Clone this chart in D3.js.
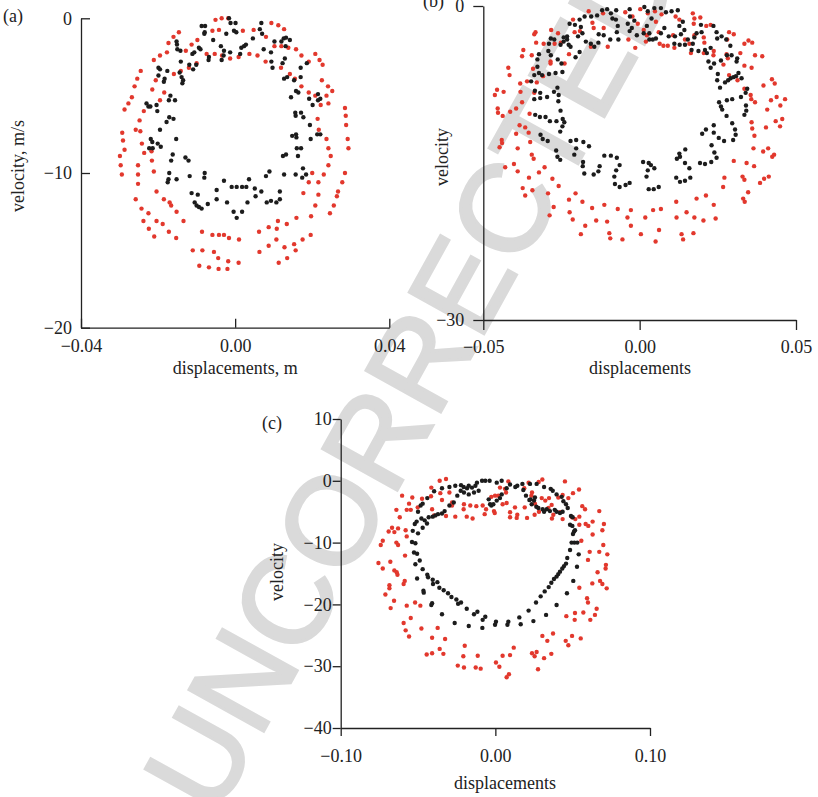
<!DOCTYPE html>
<html><head><meta charset="utf-8">
<script src="https://cdn.jsdelivr.net/npm/d3@7/dist/d3.min.js"></script>
<style>
body{margin:0;background:#fff}
svg text{font-family:"Liberation Serif","Times New Roman",serif}
</style>
</head><body>
<svg id="chart" width="818" height="797"></svg>
<script>
// ---------- DATA ----------
const panelLabels = ["(a)", "(b)", "(c)"];
const xTitles = ["displacements, m", "displacements", "displacements"];
const yTitles = ["velocity, m/s", "velocity", "velocity"];
const aTicksX = [-0.04, 0.00, 0.04];
const aTicksY = [0, -10, -20];
const bTicksX = [-0.05, 0.00, 0.05];
const bTicksY = [0, -30];
const cTicksX = [-0.10, 0.00, 0.10];
const cTicksY = [10, 0, -10, -20, -30, -40];
const watermarkText = "UNCORRECTED";

// panel (a): [displacement (m), velocity (m/s)]
const aRed = [[-0.0051,-0.1],[-0.0035,0],[-0.0018,0],[-0.0059,-0.8],[-0.0042,-0.75],[0.0020,-0.8],[0.0048,-0.75],[0.0080,-1.2],[0.0094,-0.3],[0.0112,-0.45],[0.0127,-0.7],[-0.0146,-0.9],[-0.0160,-1.2],[-0.0173,-1.6],[-0.0113,-1.7],[-0.0098,-1.4],[-0.0128,-2.1],[-0.0074,-2.3],[-0.0053,-2.3],[-0.0034,-2.4],[-0.0013,-2.6],[0.0009,-2.5],[0.0037,-2.3],[0.0058,-2.4],[0.0079,-2.8],[0.0102,-1.8],[0.0120,-1.8],[0.0138,-1.9],[0.0158,-2.0],[-0.0211,-2.7],[-0.0195,-2.4],[-0.0177,-2.2],[0.0172,-2.4],[0.0191,-2.8],[0.0208,-2.3],[0.0219,-2.7],[0.0227,-3.0],[-0.0245,-3.4],[-0.0254,-3.9],[-0.0261,-4.4],[-0.0268,-5.1],[-0.0277,-5.5],[-0.0287,-5.9],[-0.0206,-4.0],[-0.0215,-4.6],[-0.0195,-5.3],[-0.0184,-4.8],[-0.0159,-3.6],[-0.0141,-3.4],[-0.0120,-3.2],[-0.0100,-2.9],[0.0119,-3.2],[0.0142,-3.6],[0.0155,-3.9],[0.0225,-4.0],[0.0241,-4.4],[0.0252,-4.7],[0.0237,-5.0],[0.0242,-5.5],[0.0285,-5.8],[0.0287,-6.3],[0.0288,-6.9],[0.0292,-7.8],[0.0294,-8.4],[0.0285,-10.0],[0.0278,-10.6],[0.0267,-11.2],[0.0264,-11.5],[0.0256,-12.1],[0.0246,-12.6],[0.0172,-4.4],[0.0191,-4.8],[0.0208,-5.0],[0.0222,-5.6],[0.0214,-6.5],[0.0217,-7.2],[0.0237,-7.8],[0.0242,-8.4],[0.0248,-8.9],[0.0242,-9.5],[0.0230,-10.1],[0.0216,-10.6],[0.0216,-11.4],[0.0208,-12.1],[0.0197,-12.8],[0.0200,-10.0],[0.0191,-10.6],[0.0177,-11.3],[-0.0293,-7.4],[-0.0291,-7.9],[-0.0287,-8.5],[-0.0299,-8.9],[-0.0297,-9.5],[-0.0294,-10.1],[-0.0258,-11.7],[-0.0243,-12.3],[-0.0238,-13.1],[-0.0224,-13.6],[-0.0210,-14.1],[-0.0237,-6.0],[-0.0248,-6.6],[-0.0246,-7.3],[-0.0258,-7.2],[-0.0242,-8.1],[-0.0236,-8.7],[-0.0216,-9.2],[-0.0211,-9.9],[-0.0252,-9.5],[-0.0252,-10.1],[-0.0252,-10.7],[-0.0217,-8.6],[-0.0204,-11.2],[-0.0185,-11.7],[-0.0170,-11.9],[-0.0166,-12.1],[-0.0152,-12.5],[-0.0134,-13.1],[-0.0204,-13.1],[-0.0188,-13.3],[-0.0172,-13.8],[-0.0153,-14.2],[-0.0225,-12.6],[-0.0086,-13.8],[-0.0059,-14.0],[-0.0042,-14.0],[-0.0029,-14.0],[-0.0016,-14.2],[0.0010,-14.3],[-0.0110,-15.0],[-0.0085,-15.0],[-0.0055,-15.1],[-0.0044,-15.5],[-0.0018,-15.7],[0.0009,-15.8],[-0.0093,-16.0],[-0.0068,-16.1],[-0.0043,-16.2],[-0.0020,-16.2],[0.0062,-13.8],[0.0087,-13.5],[0.0108,-13.6],[0.0111,-13.1],[0.0134,-13.3],[0.0159,-12.9],[0.0107,-14.3],[0.0087,-14.7],[0.0063,-15.1],[0.0128,-14.8],[0.0153,-14.6],[0.0157,-15.0],[0.0135,-15.5],[0.0113,-15.8],[0.0175,-14.3],[0.0196,-14.0]];
const aBlack = [[-0.0087,-0.5],[-0.0078,-0.5],[-0.0016,0],[-0.0012,-0.3],[0.0001,-0.3],[0.0068,-0.3],[0.0064,-0.7],[0.0070,-1.0],[-0.0023,-1.0],[-0.0003,-0.8],[0.0003,-0.9],[-0.0057,-1.4],[-0.0037,-1.8],[-0.0029,-2.1],[-0.0013,-2.2],[0.0013,-2.3],[0.0016,-1.9],[0.0023,-1.8],[0.0028,-1.7],[0.0046,-1.3],[0.0074,-2.0],[0.0093,-2.2],[0.0102,-1.5],[0.0120,-1.5],[0.0126,-1.3],[0.0132,-1.25],[0.0142,-1.4],[0.0131,-1.8],[0.0129,-2.6],[0.0094,-2.8],[0.0097,-3.2],[0.0123,-2.9],[0.0127,-3.9],[0.0135,-3.8],[0.0153,-4.0],[0.0170,-3.8],[0.0170,-3.2],[0.0186,-2.9],[-0.0152,-1.5],[-0.0151,-1.7],[-0.0150,-2.0],[-0.0142,-2.1],[-0.0141,-2.8],[-0.0111,-2.3],[-0.0106,-2.2],[-0.0094,-1.9],[-0.0090,-2.0],[-0.0079,-0.9],[-0.0080,-1.0],[-0.0068,-2.5],[-0.0069,-2.7],[-0.0035,-2.7],[-0.0030,-2.4],[-0.0199,-3.2],[-0.0195,-3.3],[-0.0199,-3.7],[-0.0185,-4.1],[-0.0183,-3.9],[-0.0176,-3.4],[-0.0144,-3.5],[-0.0139,-3.8],[-0.0135,-4.0],[-0.0137,-4.2],[-0.0119,-3.0],[-0.0109,-3.3],[-0.0101,-3.0],[-0.0168,-5.0],[-0.0172,-5.3],[-0.0156,-5.3],[-0.0230,-5.5],[-0.0225,-5.7],[-0.0220,-5.7],[-0.0204,-5.6],[-0.0202,-6.0],[-0.0171,-6.4],[-0.0160,-6.5],[-0.0178,-6.7],[-0.0195,-7.2],[-0.0153,-7.8],[-0.0219,-7.8],[-0.0215,-8.0],[-0.0223,-8.4],[-0.0214,-8.4],[-0.0201,-8.1],[-0.0193,-8.3],[-0.0162,-8.8],[-0.0166,-9.2],[-0.0129,-9.0],[-0.0121,-9.2],[-0.0171,-10.0],[-0.0173,-10.4],[-0.0175,-10.6],[-0.0152,-10.4],[-0.0118,-10.2],[-0.0079,-10.0],[-0.0080,-10.3],[-0.0029,-10.5],[0.0145,-5.1],[0.0158,-4.7],[0.0164,-4.8],[0.0192,-5.2],[0.0201,-5.6],[0.0215,-4.9],[0.0215,-5.3],[0.0221,-5.2],[0.0156,-6.1],[0.0157,-6.3],[0.0171,-6.1],[0.0177,-6.4],[0.0194,-6.9],[0.0148,-7.6],[0.0158,-7.5],[0.0159,-7.7],[0.0196,-7.8],[0.0213,-7.5],[0.0221,-7.5],[0.0160,-8.4],[0.0171,-8.4],[0.0163,-8.9],[0.0124,-8.9],[0.0132,-8.8],[0.0127,-10.1],[0.0157,-10.1],[0.0176,-9.7],[0.0174,-10.3],[0.0184,-10.1],[0.0080,-10.2],[0.0089,-9.9],[-0.0113,-11.3],[-0.0097,-11.4],[-0.0105,-11.9],[-0.0100,-12.1],[-0.0094,-12.2],[-0.0087,-12.3],[-0.0071,-12.0],[-0.0048,-11.1],[-0.0048,-11.7],[-0.0021,-11.9],[-0.0009,-10.9],[0.0004,-10.9],[0.0018,-10.9],[0.0029,-10.9],[0.0032,-11.9],[0.0051,-11.0],[0.0053,-11.5],[0.0068,-11.2],[0.0082,-11.9],[0.0093,-11.8],[0.0116,-11.2],[0.0116,-11.7],[0.0107,-11.9],[-0.0004,-12.5],[0.0004,-12.9],[0.0018,-12.5],[0.0036,-10.4]];

// panel (b)
const bRed = [[-0.0163,-0.5],[-0.0213,-1.3],[-0.0151,-1.6],[-0.0147,-2.1],[-0.0208,-2.5],[-0.0191,-2.4],[-0.0333,-2.5],[-0.0337,-2.7],[-0.0283,-2.3],[-0.0261,-2.6],[-0.0331,-3.5],[-0.0307,-3.6],[-0.0272,-3.6],[-0.0252,-3.5],[-0.0372,-4.2],[-0.0376,-4.8],[-0.0345,-4.7],[-0.0285,-5.3],[-0.0285,-5.5],[-0.0240,-5.5],[-0.0226,-4.6],[-0.0156,-3.9],[-0.0420,-5.9],[-0.0416,-6.6],[-0.0341,-6.0],[-0.0309,-6.7],[-0.0329,-7.3],[-0.0360,-7.2],[-0.0382,-7.4],[-0.0456,-8.0],[-0.0435,-8.2],[-0.0463,-8.5],[-0.0381,-8.2],[-0.0337,-8.3],[-0.0376,-9.2],[-0.0395,-9.8],[-0.0414,-10.1],[-0.0454,-9.8],[-0.0453,-10.2],[-0.0438,-10.5],[-0.0352,-10.3],[-0.0384,-11.4],[-0.0366,-11.6],[-0.0395,-12.2],[-0.0355,-12.1],[-0.0350,-13.0],[-0.0441,-12.8],[-0.0440,-13.1],[-0.0448,-13.5],[-0.0390,-13.6],[-0.0345,-14.2],[-0.0339,-14.6],[-0.0402,-15.1],[-0.0430,-15.4],[-0.0390,-15.8],[-0.0354,-16.4],[-0.0322,-15.9],[-0.0304,-15.4],[-0.0279,-16.5],[-0.0259,-17.2],[-0.0374,-17.4],[-0.0366,-18.1],[-0.0343,-17.6],[-0.0293,-17.9],[-0.0205,-17.9],[-0.0226,-18.5],[-0.0183,-18.7],[-0.0152,-19.3],[-0.0275,-19.2],[-0.0288,-20.0],[-0.0224,-19.7],[-0.0214,-20.4],[-0.0139,-20.5],[-0.0174,-21.0],[-0.0188,-21.8],
[-0.0117,-0.7],[-0.0115,-2.1],[-0.0102,-3.9],[-0.0046,-0.6],[-0.0023,-1.0],[-0.0006,-1.7],[0.0002,-0.3],[0.0026,-0.7],[0.0049,-0.5],[0.0052,-1.5],[0.0070,-0.8],[0.0115,-1.0],[0.0127,-1.3],[0.0170,-0.7],[0.0175,-1.2],[0.0173,-1.7],[0.0194,-1.1],[0.0213,-1.9],[-0.0036,-3.2],[-0.0014,-4.0],[0.0013,-2.3],[0.0023,-2.8],[0.0020,-3.4],[0.0061,-2.5],[0.0064,-3.6],[0.0076,-3.8],[0.0090,-3.8],[0.0107,-2.8],[0.0111,-4.0],[0.0145,-3.2],[0.0159,-3.6],[0.0164,-4.5],[0.0175,-2.8],[0.0205,-3.0],[0.0207,-3.5],[0.0205,-4.5],[-0.0113,-19.0],[-0.0070,-19.4],[-0.0028,-19.5],[-0.0104,-20.6],[-0.0039,-20.2],[-0.0028,-21.0],[-0.0097,-21.7],[-0.0094,-22.2],[-0.0055,-22.3],[0.0004,-21.8],[0.0018,-20.2],[0.0043,-19.5],[0.0068,-19.4],[0.0062,-21.4],[0.0051,-22.5],[0.0117,-18.7],[0.0118,-20.2],[0.0150,-19.7],[0.0182,-18.4],[0.0175,-20.2],[0.0204,-20.5],[0.0134,-21.8],[0.0139,-22.3],[0.0172,-21.7],[0.0212,-18.1],
[0.0227,-1.8],[0.0286,-2.5],[0.0301,-2.7],[0.0280,-3.2],[0.0237,-4.3],[0.0236,-4.7],[0.0278,-4.6],[0.0282,-5.0],[0.0322,-4.5],[0.0335,-3.6],[0.0348,-3.3],[0.0360,-3.5],[0.0369,-4.7],[0.0392,-4.8],[0.0268,-5.6],[0.0335,-5.7],[0.0358,-5.9],[0.0286,-6.6],[0.0313,-7.1],[0.0335,-7.9],[0.0355,-8.5],[0.0357,-8.9],[0.0369,-9.2],[0.0396,-7.6],[0.0423,-7.0],[0.0432,-7.4],[0.0420,-9.0],[0.0438,-8.7],[0.0465,-8.9],[0.0450,-9.5],[0.0408,-9.9],[0.0358,-11.1],[0.0360,-11.7],[0.0367,-12.4],[0.0435,-11.0],[0.0456,-10.8],[0.0449,-11.5],[0.0404,-11.6],[0.0364,-13.6],[0.0395,-13.9],[0.0411,-13.6],[0.0430,-14.2],[0.0424,-14.4],[0.0301,-14.8],[0.0342,-15.0],[0.0366,-15.3],[0.0271,-16.4],[0.0267,-17.3],[0.0329,-16.3],[0.0335,-16.6],[0.0385,-16.9],[0.0398,-16.5],[0.0413,-16.3],[0.0347,-17.8],[0.0331,-18.4],[0.0336,-18.7],[0.0237,-19.0],[0.0243,-20.3]];
const bBlack = [[-0.0136,-0.9],[-0.0155,-1.0],[-0.0176,-1.0],[-0.0192,-1.3],[-0.0224,-1.7],[-0.0207,-1.8],[-0.0188,-2.0],[-0.0183,-2.6],[-0.0197,-2.9],[-0.0172,-3.4],[-0.0156,-3.6],[-0.0145,-3.9],[-0.0132,-3.5],[-0.0232,-2.9],[-0.0243,-3.0],[-0.0232,-3.2],[-0.0243,-3.4],[-0.0227,-3.7],[-0.0221,-3.9],[-0.0253,-3.7],[-0.0273,-3.2],[-0.0284,-3.1],[-0.0290,-3.6],[-0.0292,-4.3],[-0.0284,-4.7],[-0.0262,-5.1],[-0.0250,-5.5],[-0.0322,-4.6],[-0.0327,-5.1],[-0.0192,-4.4],[-0.0205,-4.9],[-0.0327,-5.8],[-0.0322,-6.4],[-0.0337,-6.6],[-0.0347,-7.2],[-0.0312,-6.6],[-0.0290,-6.5],[-0.0269,-6.4],[-0.0247,-6.3],[-0.0263,-7.8],[-0.0274,-8.2],[-0.0259,-8.5],[-0.0296,-8.7],[-0.0318,-8.3],[-0.0335,-8.1],[-0.0337,-8.9],[-0.0318,-8.8],[-0.0260,-9.1],[-0.0253,-10.0],[-0.0246,-10.8],[-0.0241,-11.1],[-0.0247,-11.5],[-0.0254,-12.0],[-0.0334,-10.4],[-0.0319,-10.6],[-0.0301,-10.6],[-0.0287,-11.0],[-0.0266,-11.0],[-0.0317,-12.3],[-0.0310,-12.7],[-0.0294,-12.9],[-0.0221,-12.9],[-0.0203,-12.8],[-0.0180,-13.0],[-0.0162,-13.4],[-0.0203,-13.6],[-0.0209,-14.2],[-0.0267,-13.8],[-0.0263,-14.4],[-0.0254,-14.7],[-0.0181,-14.9],[-0.0182,-15.3],[-0.0177,-16.0],[-0.0147,-16.1],[-0.0132,-15.8],[-0.0128,-15.3],
[-0.0120,-0.4],[-0.0104,-0.3],[-0.0092,-0.7],[-0.0087,-1.2],[-0.0075,-0.4],[-0.0076,-1.3],[-0.0070,-1.9],[-0.0073,-2.5],[-0.0068,-3.2],[-0.0094,-3.2],[-0.0115,-2.8],[-0.0131,-2.7],[-0.0032,-0.3],[-0.0031,-1.0],[-0.0017,-1.4],[-0.0025,-2.1],[-0.0032,-2.4],[-0.0038,-1.7],[-0.0009,-2.8],[0.0015,-0.1],[0.0026,-0.5],[0.0038,-1.2],[0.0047,-0.2],[0.0068,-0.2],[0.0084,-0.6],[0.0102,-0.5],[0.0122,-0.4],[0.0138,-1.5],[0.0127,-1.9],[0.0143,-2.3],[0.0132,-2.7],[0.0113,-2.9],[0.0111,-3.6],[0.0128,-3.7],[0.0145,-3.7],[0.0154,-3.2],[0.0170,-3.6],[0.0166,-4.2],[0.0188,-4.3],[0.0175,-3.0],[0.0182,-2.6],[0.0198,-2.5],[0.0196,-1.8],[0.0209,-4.2],[0.0215,-4.5],[0.0023,-1.9],[0.0013,-2.6],[0.0031,-2.6],[0.0031,-3.2],[0.0042,-3.2],[0.0052,-3.1],[0.0068,-2.6],[0.0079,-2.1],[0.0093,-2.9],[-0.0113,-14.3],[-0.0092,-14.3],[-0.0073,-14.5],[-0.0064,-15.2],[-0.0075,-15.7],[-0.0081,-16.3],[-0.0079,-17.0],[-0.0064,-17.3],[-0.0045,-17.1],[-0.0032,-16.9],[0.0011,-14.9],[0.0029,-15.0],[0.0036,-15.2],[0.0047,-15.5],[0.0026,-15.7],[0.0022,-16.3],[0.0029,-17.5],[0.0045,-17.5],[0.0061,-17.3],[0.0127,-14.1],[0.0129,-14.4],[0.0119,-14.6],[0.0146,-13.7],[0.0145,-15.0],[0.0159,-15.5],[0.0117,-16.4],[0.0129,-16.8],[0.0145,-16.7],[0.0162,-16.4],[0.0193,-15.0],[0.0209,-15.1],[0.0200,-12.2],[0.0212,-11.8],
[0.0236,-1.9],[0.0246,-2.5],[0.0262,-2.9],[0.0248,-3.1],[0.0277,-3.2],[0.0290,-3.8],[0.0279,-4.7],[0.0294,-4.7],[0.0312,-5.0],[0.0310,-5.3],[0.0260,-5.2],[0.0227,-4.0],[0.0238,-5.5],[0.0227,-5.9],[0.0220,-5.3],[0.0250,-6.5],[0.0248,-7.1],[0.0257,-7.8],[0.0273,-7.3],[0.0283,-7.1],[0.0291,-6.9],[0.0300,-6.8],[0.0308,-6.7],[0.0316,-6.4],[0.0326,-6.9],[0.0344,-7.9],[0.0339,-8.3],[0.0324,-8.7],[0.0254,-9.2],[0.0260,-9.6],[0.0264,-9.9],[0.0279,-9.0],[0.0296,-8.9],[0.0340,-9.5],[0.0341,-10.0],[0.0335,-10.4],[0.0278,-10.5],[0.0237,-11.4],[0.0296,-11.2],[0.0305,-11.8],[0.0307,-12.3],[0.0299,-12.8],[0.0270,-12.9],[0.0253,-12.6],[0.0237,-12.1],[0.0230,-13.3],[0.0239,-14.0],[0.0246,-14.5],[0.0229,-14.9]];

// panel (c)
const cRed = [[-0.0360,0],[-0.0319,0.3],[-0.0414,-1.1],[-0.0297,-1.9],[-0.0603,-2.4],[-0.0537,-2.7],[-0.0558,-3.7],[-0.0474,-2.9],[-0.0416,-2.5],[-0.0356,-2.0],[-0.0640,-4.7],[-0.0618,-5.9],[-0.0573,-4.7],[-0.0547,-4.7],[-0.0502,-4.3],[-0.0409,-4.6],[-0.0345,-3.1],[-0.0280,-3.5],[-0.0280,-4.0],[-0.0203,-3.8],[-0.0205,-4.6],[-0.0162,-4.0],[-0.0123,-4.1],[-0.0082,-4.0],[-0.0060,-4.6],[-0.0069,-5.4],[-0.0026,-2.6],[-0.0396,-5.6],[-0.0319,-5.7],[-0.0259,-5.8],[-0.0185,-5.8],[-0.0147,-6.1],[-0.0668,-7.6],[-0.0690,-8.2],[-0.0653,-8.3],[-0.0629,-7.7],[-0.0580,-8.0],[-0.0573,-9.0],[-0.0728,-9.7],[-0.0741,-10.4],[-0.0640,-10.0],[-0.0629,-10.4],[-0.0584,-12.1],[-0.0679,-13.1],[-0.0756,-13.3],[-0.0728,-14.2],[-0.0653,-14.5],[-0.0638,-14.8],[-0.0633,-15.2],[-0.0586,-16.2],[-0.0593,-16.7],[-0.0685,-16.9],[-0.0685,-17.4],[-0.0711,-18.4],[-0.0655,-19.4],[-0.0677,-20.6],[-0.0573,-20.2],[-0.0519,-19.7],[-0.0485,-20.2],[-0.0547,-22.2],[-0.0593,-23.0],[-0.0580,-24.2],[-0.0478,-23.9],[-0.0558,-25.2],[-0.0409,-25.4],[-0.0373,-23.8],[-0.0325,-25.6],[-0.0360,-27.2],[-0.0336,-28.0],[-0.0444,-28.1],[-0.0409,-27.9],[-0.0198,-26.7],[-0.0207,-28.4],[-0.0114,-28.3],[-0.0243,-29.9],[-0.0203,-30.2],[-0.0127,-30.2],[-0.0095,-30.4],
[-0.0002,-2.4],[0.0019,-2.4],[0.0030,-1.1],[0.0062,-1.3],[0.0069,-1.9],[0.0084,-0.1],[0.0187,-1.2],[0.0215,-0.3],[0.0280,-0.2],[0.0304,0.2],[0.0450,-0.1],[0.0541,-1.4],[0.0502,-2.0],[0.0472,-2.8],[0.0435,-2.3],[0.0407,-2.7],[0.0237,-1.9],[0.0233,-2.4],[0.0300,-2.8],[0.0347,-2.8],[0.0323,-3.2],[0.0256,-3.7],[0.0047,-3.8],[0.0073,-3.6],[-0.0009,-4.9],[-0.0004,-5.2],[0.0095,-5.9],[0.0095,-5.1],[0.0142,-5.5],[0.0138,-6.0],[0.0127,-4.3],[0.0190,-4.3],[0.0205,-6.0],[0.0254,-5.5],[0.0282,-5.0],[0.0343,-4.4],[0.0364,-3.9],[0.0375,-5.5],[0.0366,-6.1],[0.0418,-5.1],[0.0435,-6.2],[0.0496,-5.9],[0.0543,-5.8],[0.0517,-6.2],[0.0562,-4.1],[0.0580,-4.6],[0.0672,-4.9],[0.0584,-7.0],[0.0601,-7.3],[0.0543,-7.1],[0.0629,-6.6],[0.0702,-7.0],[0.0629,-8.7],[0.0692,-8.0],[0.0556,-9.7],[0.0610,-11.5],[0.0672,-11.5],[0.0698,-10.4],[0.0724,-11.9],[0.0599,-12.8],[0.0715,-13.6],[0.0713,-14.2],[0.0661,-14.8],[0.0677,-16.2],[0.0692,-16.7],[0.0720,-17.4],[0.0627,-16.6],[0.0543,-17.3],[0.0593,-19.0],[0.0599,-19.7],[0.0655,-20.7],[0.0644,-21.7],[0.0614,-22.5],[0.0569,-21.3],[0.0515,-21.4],[0.0513,-22.5],[0.0459,-21.9],[0.0373,-24.7],[0.0304,-25.1],[0.0336,-25.9],[0.0455,-25.9],[0.0472,-26.6],[0.0496,-25.1],[0.0552,-25.5],[0.0119,-27.0],[0.0047,-28.3],[0.0095,-28.2],[0.0004,-29.4],[0.0026,-30.1],[0.0237,-27.9],[0.0267,-27.7],[0.0254,-28.4],[0.0315,-28.7],[0.0362,-28.0],[0.0276,-30.5],[0.0088,-31.3],[0.0073,-31.8]];
const cBlack = [[-0.0345,-1.2],[-0.0297,-1.0],[-0.0259,-0.8],[-0.0222,-0.7],[-0.0205,-1.0],[-0.0183,-1.2],[-0.0172,-0.8],[-0.0151,-1.1],[-0.0129,-0.8],[-0.0119,-0.3],[-0.0086,0],[-0.0065,0],[-0.0037,0],[-0.0108,-1.6],[-0.0138,-1.9],[-0.0172,-2.2],[-0.0203,-1.9],[-0.0224,-1.6],[-0.0246,-2.4],[-0.0269,-3.5],[-0.0297,-4.0],[-0.0328,-4.9],[-0.0345,-5.3],[-0.0371,-5.4],[-0.0388,-5.6],[-0.0405,-5.8],[-0.0431,-5.9],[-0.0457,-6.4],[-0.0478,-6.1],[-0.0500,-5.0],[-0.0483,-4.0],[-0.0470,-3.7],[-0.0440,-2.8],[-0.0396,-1.7],[-0.0509,-6.6],[-0.0521,-7.0],[-0.0442,-6.9],[-0.0470,-7.6],[-0.0500,-8.5],[-0.0534,-8.1],[-0.0539,-9.9],[-0.0517,-10.1],[-0.0526,-11.6],[-0.0506,-11.8],[-0.0489,-12.9],[-0.0517,-13.5],[-0.0470,-14.3],[-0.0506,-15.8],[-0.0440,-15.2],[-0.0435,-15.6],[-0.0405,-16.0],[-0.0403,-16.7],[-0.0375,-16.4],[-0.0362,-17.3],[-0.0334,-17.7],[-0.0465,-17.8],[-0.0463,-18.1],[-0.0409,-19.8],[-0.0414,-20.1],[-0.0306,-18.2],[-0.0284,-18.8],[-0.0252,-19.2],[-0.0241,-19.9],[-0.0222,-19.7],[-0.0185,-20.7],[-0.0138,-21.6],[-0.0116,-21.2],[-0.0345,-21.6],[-0.0263,-23.0],[-0.0172,-23.5],[-0.0082,-22.5],[-0.0065,-22.0],[-0.0084,-23.8],[-0.0034,-3.8],[-0.0043,-3.0],[-0.0026,-4.0],
[0.0009,-0.3],[0.0041,0],[0.0095,-0.6],[0.0129,-1.0],[0.0142,-0.8],[0.0175,-0.5],[0.0181,-1.5],[0.0224,-0.5],[0.0267,-0.5],[0.0315,-1.0],[0.0358,-1.3],[0.0371,-1.6],[0.0396,-2.2],[0.0429,-2.6],[0.0440,-3.3],[0.0457,-3.8],[0.0468,-4.4],[0.0073,-1.2],[0.0041,-2.2],[0.0030,-2.8],[0.0009,-3.2],[-0.0013,-3.8],[0.0198,-2.4],[0.0228,-3.0],[0.0250,-3.2],[0.0265,-4.2],[0.0278,-4.4],[0.0306,-4.6],[0.0315,-5.0],[0.0332,-4.6],[0.0353,-4.9],[0.0384,-4.7],[0.0396,-5.0],[0.0418,-5.2],[0.0435,-5.0],[0.0235,-3.8],[0.0220,-3.1],[0.0256,-2.7],[0.0489,-5.7],[0.0500,-5.9],[0.0483,-7.1],[0.0498,-7.3],[0.0515,-8.0],[0.0509,-8.2],[0.0502,-8.6],[0.0493,-10.0],[0.0511,-10.0],[0.0530,-10.0],[0.0483,-11.2],[0.0539,-11.9],[0.0465,-12.5],[0.0457,-13.4],[0.0444,-13.8],[0.0433,-14.2],[0.0418,-14.7],[0.0407,-15.1],[0.0396,-15.5],[0.0379,-15.9],[0.0362,-16.5],[0.0345,-17.2],[0.0319,-17.9],[0.0293,-18.7],[0.0263,-19.7],[0.0528,-13.9],[0.0504,-16.2],[0.0463,-18.2],[0.0396,-20.1],[0.0328,-21.7],[0.0246,-22.7],[0.0215,-21.0],[0.0155,-22.1],[0.0164,-23.2],[0.0084,-22.8],[0.0078,-23.3],[0.0004,-22.8],[-0.0002,-23.3]];

// ---------- LAYOUT ----------
const RED = "#e2382d", BLACK = "#1c1c1c";
const svg = d3.select("#chart");

// watermark (behind everything)
svg.append("text")
  .attr("transform", "translate(410,375) rotate(-61)")
  .attr("text-anchor", "middle").attr("dy", "0.36em")
  .style("font-family", "'Liberation Sans', Arial, sans-serif")
  .style("font-weight", "normal").style("font-size", "124px")
  .attr("fill", "#dadada").attr("stroke", "#dadada").attr("stroke-width", 3)
  .text(watermarkText);

const panels = [
  {label: panelLabels[0], red: aRed, black: aBlack, xd: [-0.04, 0.04], yd: [-20, 0],
   xr: [81, 389.3], yr: [327.7, 18.3], xt: aTicksX, yt: aTicksY, fmtX: d3.format(".2f"),
   tick: -9, padY: 9, padX: 12, lab: [3, 21.5], xTitle: [235.3, 374], yTitle: [24, 166]},
  {label: panelLabels[1], red: bRed, black: bBlack, xd: [-0.05, 0.05], yd: [-30, 0],
   xr: [483.3, 796], yr: [320, 6], xt: bTicksX, yt: bTicksY, fmtX: d3.format(".2f"),
   tick: 10, padY: 9, padX: 10, lab: [423, 7], xTitle: [640, 374], yTitle: [448, 157]},
  {label: panelLabels[2], red: cRed, black: cBlack, xd: [-0.1, 0.1], yd: [-40, 10],
   xr: [340.7, 650], yr: [728, 419], xt: cTicksX, yt: cTicksY, fmtX: d3.format(".2f"),
   tick: 8, padY: 1, padX: 13, lab: [262, 429], xTitle: [505, 789], yTitle: [283, 572]}
];

panels.forEach((p, i) => {
  const x = d3.scaleLinear().domain(p.xd).range(p.xr);
  const y = d3.scaleLinear().domain(p.yd).range(p.yr);
  const g = svg.append("g");

  const xAxis = d3.axisBottom(x).tickValues(p.xt).tickFormat(p.fmtX)
    .tickSizeInner(p.tick).tickSizeOuter(0).tickPadding(p.padX);
  const yAxis = d3.axisLeft(y).tickValues(p.yt).tickFormat(d3.format("d"))
    .tickSizeInner(p.tick).tickSizeOuter(0).tickPadding(p.padY);

  const gx = g.append("g").attr("transform", `translate(0,${p.yr[0]})`).call(xAxis);
  const gy = g.append("g").attr("transform", `translate(${p.xr[0]},0)`).call(yAxis);
  [gx, gy].forEach(a => {
    a.attr("font-family", null).attr("font-size", null);
    a.selectAll("path.domain").attr("stroke", "#222").attr("stroke-width", 1.3);
    a.selectAll(".tick line").attr("stroke", "#222").attr("stroke-width", 1.3);
    a.selectAll(".tick text").attr("fill", "#222")
      .style("font-family", "'Liberation Serif','Times New Roman',serif").style("font-size", "18px");
  });

  // points
  const dots = g.append("g");
  dots.selectAll("circle.r").data(p.red).join("circle").attr("class", "r")
    .attr("cx", d => x(d[0])).attr("cy", d => y(d[1])).attr("r", 2.2).attr("fill", RED);
  dots.selectAll("circle.k").data(p.black).join("circle").attr("class", "k")
    .attr("cx", d => x(d[0])).attr("cy", d => y(d[1])).attr("r", 2.2).attr("fill", BLACK);

  // titles
  g.append("text").attr("x", p.xTitle[0]).attr("y", p.xTitle[1]).attr("text-anchor", "middle")
    .attr("font-size", 18).attr("fill", "#222").text(xTitles[i]);
  g.append("text").attr("transform", `translate(${p.yTitle[0]},${p.yTitle[1]}) rotate(-90)`)
    .attr("text-anchor", "middle").attr("font-size", 18).attr("fill", "#222").text(yTitles[i]);
  g.append("text").attr("x", p.lab[0]).attr("y", p.lab[1]).attr("font-size", 18)
    .attr("fill", "#222").text(p.label);
});
</script>
</body></html>
